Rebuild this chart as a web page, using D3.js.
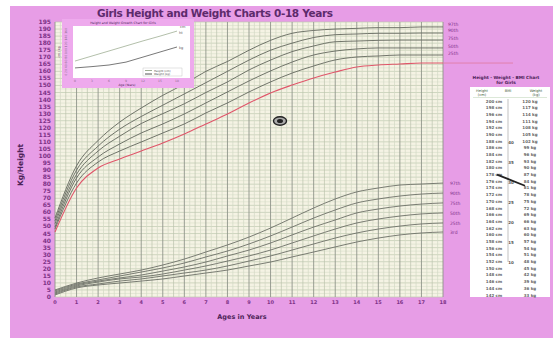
<!DOCTYPE html>
<html>
<head>
<meta charset="utf-8">
<script src="https://cdn.jsdelivr.net/npm/d3@7"></script>
<style>
body{margin:0;background:#fff;}
svg{display:block;font-family:"DejaVu Sans",sans-serif;}
</style>
</head>
<body>
<div id="chart"></div>
<script>
// ages on the x axis
var ages = [0,1,2,3,4,5,6,7,8,9,10,11,12,13,14,15,16,17,18];

// height percentile curves (upper group)
var h97 = [56,93,111,124,134,143,151,160,167,175,182,187,189,190,190.5,191,191,191.5,191.5];
var h90 = [54,90,107,119,128,136,144,152,160,168,175,180,184,186,186.5,187,187,187.2,187.2];
var h75 = [52,87,103.5,114,123,130,137,145,152.5,161,168,174,178,181,181.5,182,182.2,182.2,182.2];
var h50 = [49.6,84.4,99.3,108.5,116.3,122.7,129.8,137.6,145.4,153.2,160.3,166.6,171.6,174.4,175.9,176.6,176.6,176.6,176.6];
var h25 = [48.2,80.8,95.7,103.5,109.9,116.3,122.7,130.5,137.6,145.4,152.5,158.8,163.8,168.1,170.2,170.9,171.6,171.6,171.6];
var h3  = [46.1,77.3,91.5,97.9,103.5,109.2,115.6,122.7,129.8,137.6,144.7,150.3,155.3,159.5,163.1,164.5,165.2,165.9,165.9];

// weight percentile curves (lower group)
var w97 = [5.0,9.9,13.5,16.3,19.1,22.7,26.9,31.9,36.9,42.5,48.9,56.0,63.1,69.5,74.5,77.3,79.4,80.1,80.8];
var w90 = [4.3,9.2,12.1,14.9,17.7,20.6,24.1,28.4,32.6,37.6,43.3,49.6,56.0,61.7,66.7,69.5,71.6,73.0,73.7];
var w75 = [3.5,8.5,11.3,13.5,15.6,18.4,21.3,24.8,29.1,33.3,38.3,44.0,49.6,54.6,59.6,62.4,64.5,65.9,66.7];
var w50 = [2.8,7.8,10.6,12.8,14.2,16.3,19.1,22.0,25.5,29.1,33.3,38.3,43.3,48.2,52.5,55.3,57.4,58.9,59.6];
var w25 = [2.1,7.1,9.2,11.3,12.8,14.9,17.0,19.1,22.0,25.5,29.1,33.3,37.6,41.8,45.4,48.2,50.3,51.8,52.5];
var w3  = [1.4,6.4,8.5,9.9,11.3,12.8,14.9,17.0,19.1,22.0,24.8,28.4,31.9,35.5,39.0,41.8,44.0,45.4,46.1];

var heightNames = ["97th","90th","75th","50th","25th","3rd"];
var weightNames = ["97th","90th","75th","50th","25th","3rd"];

// y axis tick labels
var yTicks = [0,5,10,15,20,25,30,35,40,45,50,55,60,65,70,75,80,85,90,95,100,105,110,115,120,125,130,135,140,145,150,155,160,165,170,175,180,185,190,195];

// small inset chart
var insetAges = [0,3,6,9,12,15,18];
var insetUpper = [32,41.5,51,60.5,70,79,88.5];
var insetLower = [19,21.5,24.5,30,39.5,49,58.5];

// nomogram table on the right
var tableHeights = [200,198,196,194,192,190,188,186,184,182,180,178,176,174,172,170,168,166,164,162,160,158,156,154,152,150,148,146,144,142];
var tableWeights = [120,117,114,111,108,105,102,99,96,93,90,87,84,81,78,75,72,69,66,63,60,57,54,51,48,45,42,39,36,33];
var bmiTicks = [40,35,30,25,20,15,10];
var markHeight = 178, markWeight = 82;

var W = 553, H = 338;
var pink = "#e79de6", purple = "#7e3288", dark = "#4d2358";

var svg = d3.select("#chart").append("svg").attr("width", W).attr("height", H);

svg.append("rect").attr("x",10).attr("y",6).attr("width",W-10).attr("height",H-6).attr("fill",pink);

var x = d3.scaleLinear().domain([0,18]).range([55,443]);
var y = d3.scaleLinear().domain([0,195]).range([297,22]);

// plot background + grid
svg.append("rect").attr("x",x(0)).attr("y",y(195)).attr("width",x(18)-x(0)).attr("height",y(0)-y(195)).attr("fill","#f5f3e4");

var grid = svg.append("g");
grid.selectAll(".hm").data(d3.range(0,195.1,2.5)).enter().append("line")
    .attr("x1",x(0)).attr("x2",x(18))
    .attr("y1",function(d){ return y(d); }).attr("y2",function(d){ return y(d); })
    .attr("stroke",function(d){ return d%5==0 ? "#bfcab0" : "#dde2cf"; })
    .attr("stroke-width",0.7);
grid.selectAll(".vm").data(d3.range(0,18.01,0.25)).enter().append("line")
    .attr("y1",y(0)).attr("y2",y(195))
    .attr("x1",function(d){ return x(d); }).attr("x2",function(d){ return x(d); })
    .attr("stroke",function(d){ return d%1==0 ? "#8e948a" : (d%0.5==0 ? "#bcc3ad" : "#d3d9c4"); })
    .attr("stroke-width",function(d){ return d%1==0 ? 0.9 : 0.7; });

var line = d3.line()
    .x(function(d,i){ return x(ages[i]); })
    .y(function(d){ return y(d); })
    .curve(d3.curveMonotoneX);

var heightSeries = [h97,h90,h75,h50,h25,h3];
var weightSeries = [w97,w90,w75,w50,w25,w3];

svg.selectAll(".hc").data(heightSeries).enter().append("path")
    .attr("d",line).attr("fill","none")
    .attr("stroke",function(d,i){ return i==5 ? "#e0566a" : "#62665c"; })
    .attr("stroke-width",function(d,i){ return i==5 ? 1.1 : 0.9; });

svg.selectAll(".wc").data(weightSeries).enter().append("path")
    .attr("d",line).attr("fill","none")
    .attr("stroke","#6c6f66").attr("stroke-width",0.9);

// red line carried out to the right
svg.append("line").attr("x1",x(18)).attr("x2",513)
    .attr("y1",y(h3[18])).attr("y2",y(h3[18]))
    .attr("stroke","#e07aa0").attr("stroke-width",0.8);

// curve labels on the right
svg.selectAll(".hl").data(heightSeries.slice(0,5)).enter().append("text")
    .attr("x",448).attr("y",function(d,i){ return y(d[18]) - 1 + i*0.3; })
    .attr("font-size","4.5px").attr("fill",purple)
    .text(function(d,i){ return heightNames[i]; });
svg.selectAll(".wl").data(weightSeries).enter().append("text")
    .attr("x",450).attr("y",function(d){ return y(d[18]) + 2; })
    .attr("font-size","4.5px").attr("fill",purple)
    .text(function(d,i){ return weightNames[i]; });

// y labels
svg.selectAll(".yl").data(yTicks).enter().append("text")
    .attr("x",51).attr("y",function(d){ return y(d) + 2; })
    .attr("text-anchor","end").attr("font-size","6px").attr("font-weight","bold")
    .attr("fill",purple).text(function(d){ return d; });

// x labels
svg.selectAll(".xl").data(ages).enter().append("text")
    .attr("x",function(d){ return x(d); }).attr("y",304)
    .attr("text-anchor","middle").attr("font-size","5px").attr("font-weight","bold")
    .attr("fill",purple).text(function(d){ return d; });

svg.append("text").attr("x",242).attr("y",319).attr("text-anchor","middle")
    .attr("font-size","6.5px").attr("font-weight","bold").attr("fill",dark).text("Ages in Years");
svg.append("text").attr("transform","translate(23,165) rotate(-90)").attr("text-anchor","middle")
    .attr("font-size","7.5px").attr("font-weight","bold").attr("fill",dark).text("Kg/Height");

svg.append("text").attr("x",215).attr("y",17).attr("text-anchor","middle")
    .attr("font-size","10.5px").attr("font-weight","bold").attr("fill","#5d2a6c")
    .attr("textLength",236).text("Girls Height and Weight Charts 0-18 Years");

// watermark
svg.append("ellipse").attr("cx",280).attr("cy",121).attr("rx",6.5).attr("ry",4.2)
    .attr("fill","#aaa").attr("stroke","#222").attr("stroke-width",1.4);
svg.append("ellipse").attr("cx",280).attr("cy",121).attr("rx",3).attr("ry",2).attr("fill","#222");

// inset chart
var inset = svg.append("g");
inset.append("rect").attr("x",62).attr("y",19).attr("width",132).attr("height",69).attr("fill","#eeaaed");
inset.append("rect").attr("x",73).attr("y",26).attr("width",117).attr("height",52).attr("fill","#fff");
var ix = d3.scaleLinear().domain([0,18]).range([75,177]);
var iy = d3.scaleLinear().domain([0,100]).range([78,25]);
var iline = d3.line().x(function(d,i){ return ix(insetAges[i]); }).y(function(d){ return iy(d); });
inset.append("path").attr("d",iline(insetUpper)).attr("fill","none").attr("stroke","#9fae94").attr("stroke-width",0.8);
inset.append("path").attr("d",iline(insetLower)).attr("fill","none").attr("stroke","#555").attr("stroke-width",0.8);
inset.append("text").attr("x",123).attr("y",24).attr("text-anchor","middle").attr("font-size","3.2px")
    .attr("fill",dark).text("Height and Weight Growth Chart for Girls");
inset.append("text").attr("transform","translate(60,52) rotate(-90)").attr("text-anchor","middle")
    .attr("font-size","3px").attr("fill",dark).text("cm / kg");
inset.append("text").attr("transform","translate(67,52) rotate(-90)").attr("text-anchor","middle")
    .attr("font-size","3px").attr("fill","#8a6a8a").text("0 20 40 60 80 100 120 140 160");
inset.selectAll(".ixl").data(insetAges).enter().append("text")
    .attr("x",function(d){ return ix(d); }).attr("y",82).attr("text-anchor","middle")
    .attr("font-size","3px").attr("fill","#8a6a8a").text(function(d){ return d; });
inset.append("text").attr("x",127).attr("y",86).attr("text-anchor","middle").attr("font-size","3px")
    .attr("fill",dark).text("Age (Years)");
inset.append("text").attr("x",180).attr("y",28).attr("font-size","3.5px").attr("fill","#555").text("cm");
inset.append("text").attr("x",179).attr("y",34).attr("font-size","3.5px").attr("fill","#555").text("ht");
inset.append("text").attr("x",179).attr("y",49).attr("font-size","3.5px").attr("fill","#555").text("kg");
var leg = inset.append("g");
leg.append("rect").attr("x",143).attr("y",68).attr("width",39).attr("height",8).attr("fill","#fff").attr("stroke","#bbb").attr("stroke-width",0.4);
leg.append("line").attr("x1",145).attr("x2",152).attr("y1",70.5).attr("y2",70.5).attr("stroke","#9fae94");
leg.append("line").attr("x1",145).attr("x2",152).attr("y1",74).attr("y2",74).attr("stroke","#555");
leg.append("text").attr("x",154).attr("y",71.5).attr("font-size","2.8px").attr("fill","#444").text("Height (cm)");
leg.append("text").attr("x",154).attr("y",75).attr("font-size","2.8px").attr("fill","#444").text("Weight (kg)");

// nomogram table
var tbl = svg.append("g");
tbl.append("text").attr("x",506).attr("y",79).attr("text-anchor","middle").attr("font-size","4.3px")
    .attr("font-weight","bold").attr("fill",dark).text("Height - Weight - BMI Chart");
tbl.append("text").attr("x",506).attr("y",84).attr("text-anchor","middle").attr("font-size","4.3px")
    .attr("font-weight","bold").attr("fill",dark).text("for Girls");
tbl.append("rect").attr("x",470).attr("y",87).attr("width",80).attr("height",210).attr("fill","#fff");

var rowY = d3.scaleLinear().domain([tableHeights[0], tableHeights[tableHeights.length-1]]).range([101,295]);
var rowW = d3.scaleLinear().domain([tableWeights[0], tableWeights[tableWeights.length-1]]).range([101,295]);
var bmiY = d3.scaleLinear().domain([40,10]).range([142,262]);

[["Height","(cm)",482],["BMI","",508],["Weight","(kg)",536]].forEach(function(h){
    tbl.append("text").attr("x",h[2]).attr("y",92).attr("text-anchor","middle").attr("font-size","3.6px").attr("fill","#3d5a3a").text(h[0]);
    tbl.append("text").attr("x",h[2]).attr("y",96).attr("text-anchor","middle").attr("font-size","3.6px").attr("fill","#3d5a3a").text(h[1]);
});
tbl.append("line").attr("x1",473).attr("x2",547).attr("y1",97.5).attr("y2",97.5).attr("stroke","#b8d0b0").attr("stroke-width",0.5);

tbl.selectAll(".tl").data(tableHeights).enter().append("text")
    .attr("x",494).attr("y",function(d){ return rowY(d) + 1.5; }).attr("text-anchor","middle")
    .attr("font-size","4px").attr("font-weight","bold").attr("fill","#666").text(function(d){ return d + " cm"; });
tbl.selectAll(".tr").data(tableWeights).enter().append("text")
    .attr("x",530).attr("y",function(d){ return rowW(d) + 1.5; }).attr("text-anchor","middle")
    .attr("font-size","4px").attr("font-weight","bold").attr("fill","#666").text(function(d){ return d + " kg"; });

tbl.append("line").attr("x1",508).attr("x2",508).attr("y1",99).attr("y2",bmiY(10))
    .attr("stroke","#999").attr("stroke-width",0.6);
tbl.selectAll(".bt").data(bmiTicks).enter().append("text")
    .attr("x",511).attr("y",function(d){ return bmiY(d) + 1.5; }).attr("text-anchor","middle")
    .attr("font-size","4px").attr("font-weight","bold").attr("fill","#555").text(function(d){ return d; });

tbl.append("line").attr("x1",497).attr("x2",525)
    .attr("y1",rowY(markHeight)).attr("y2",rowW(markWeight))
    .attr("stroke","#222").attr("stroke-width",1.8);
</script>
</body>
</html>
